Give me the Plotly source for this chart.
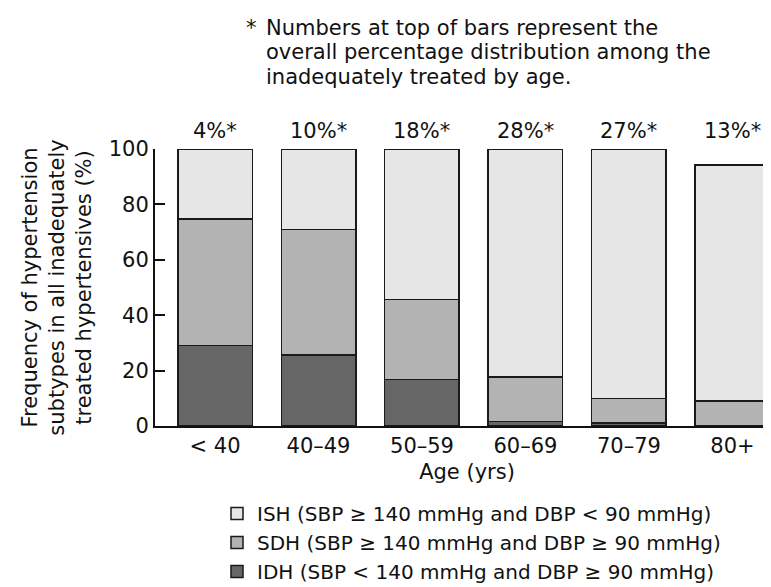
import plotly.graph_objects as go

categories = ["< 40", "40–49", "50–59", "60–69", "70–79", "80+"]
idh = [29.1, 25.6, 16.8, 1.6, 1.0, 0.0]
sdh = [45.7, 45.3, 28.9, 16.1, 8.9, 9.1]
ish = [25.2, 29.1, 54.3, 82.3, 90.0, 85.2]
top_labels = ["4%*", "10%*", "18%*", "28%*", "27%*", "13%*"]

series_names = [
    "IDH (SBP < 140 mmHg and DBP ≥ 90 mmHg)",
    "SDH (SBP ≥ 140 mmHg and DBP ≥ 90 mmHg)",
    "ISH (SBP ≥ 140 mmHg and DBP < 90 mmHg)",
]
series_colors = ["#666666", "#b3b3b3", "#e6e6e6"]
footnote_lines = [
    "Numbers at top of bars represent the",
    "overall percentage distribution among the",
    "inadequately treated by age.",
]

FONT = "DejaVu Sans, sans-serif"
FS = 21
TXT = "#111111"
W, H = 771, 587
L, R, T, B = 147, 0, 141, 169
pw, ph = W - L - R, H - T - B

def px_x(x):
    return (x - L) / pw

def px_y(y):
    return (H - B - y) / ph

fig = go.Figure()
for name, vals, col in zip(series_names, [idh, sdh, ish], series_colors):
    fig.add_trace(go.Bar(
        x=categories, y=vals, name=name,
        marker=dict(color=col, line=dict(color="#1a1a1a", width=1.5)),
        width=0.72,
    ))

for c, t in zip(categories, top_labels):
    fig.add_annotation(x=c, y=100, text=t, showarrow=False, yanchor="bottom",
                       yshift=4, font=dict(size=FS, color=TXT, family=FONT))

fig.add_annotation(xref="paper", yref="paper", x=px_x(236), y=px_y(20), text="*",
                   showarrow=False, xanchor="left", yanchor="middle",
                   font=dict(size=FS, color=TXT, family=FONT))
for i, line in enumerate(footnote_lines):
    fig.add_annotation(xref="paper", yref="paper", x=px_x(256), y=px_y(20 + 24.5 * i),
                       text=line, showarrow=False, xanchor="left", yanchor="middle",
                       font=dict(size=FS, color=TXT, family=FONT))

fig.update_layout(
    width=W, height=H,
    margin=dict(l=L, r=R, t=T, b=B, pad=0, autoexpand=False),
    paper_bgcolor="white", plot_bgcolor="white",
    barmode="stack",
    font=dict(family=FONT, size=FS, color=TXT),
    showlegend=True,
    legend=dict(
        traceorder="reversed",
        x=px_x(209), y=px_y(486), xanchor="left", yanchor="top",
        font=dict(size=20, family=FONT, color=TXT),
        bgcolor="rgba(0,0,0,0)",
        tracegroupgap=0,
    ),
    xaxis=dict(
        range=[-0.58, 5.45], showline=True, linecolor="#111", linewidth=2,
        ticks="", tickfont=dict(size=FS, family=FONT, color=TXT),
        title=dict(text="Age (yrs)", font=dict(size=FS, family=FONT, color=TXT), standoff=7),
        showgrid=False, zeroline=False,
    ),
    yaxis=dict(
        range=[0, 100], showline=True, linecolor="#111", linewidth=2,
        ticks="inside", ticklen=10, tickwidth=2, tickcolor="#111",
        tickvals=[0, 20, 40, 60, 80, 100],
        tickfont=dict(size=FS, family=FONT, color=TXT),
        title=dict(text="Frequency of hypertension<br>subtypes in all inadequately<br>treated hypertensives (%)",
                   font=dict(size=FS, family=FONT, color=TXT), standoff=11),
        showgrid=False, zeroline=False,
    ),
)

fig.write_html("out.html")
